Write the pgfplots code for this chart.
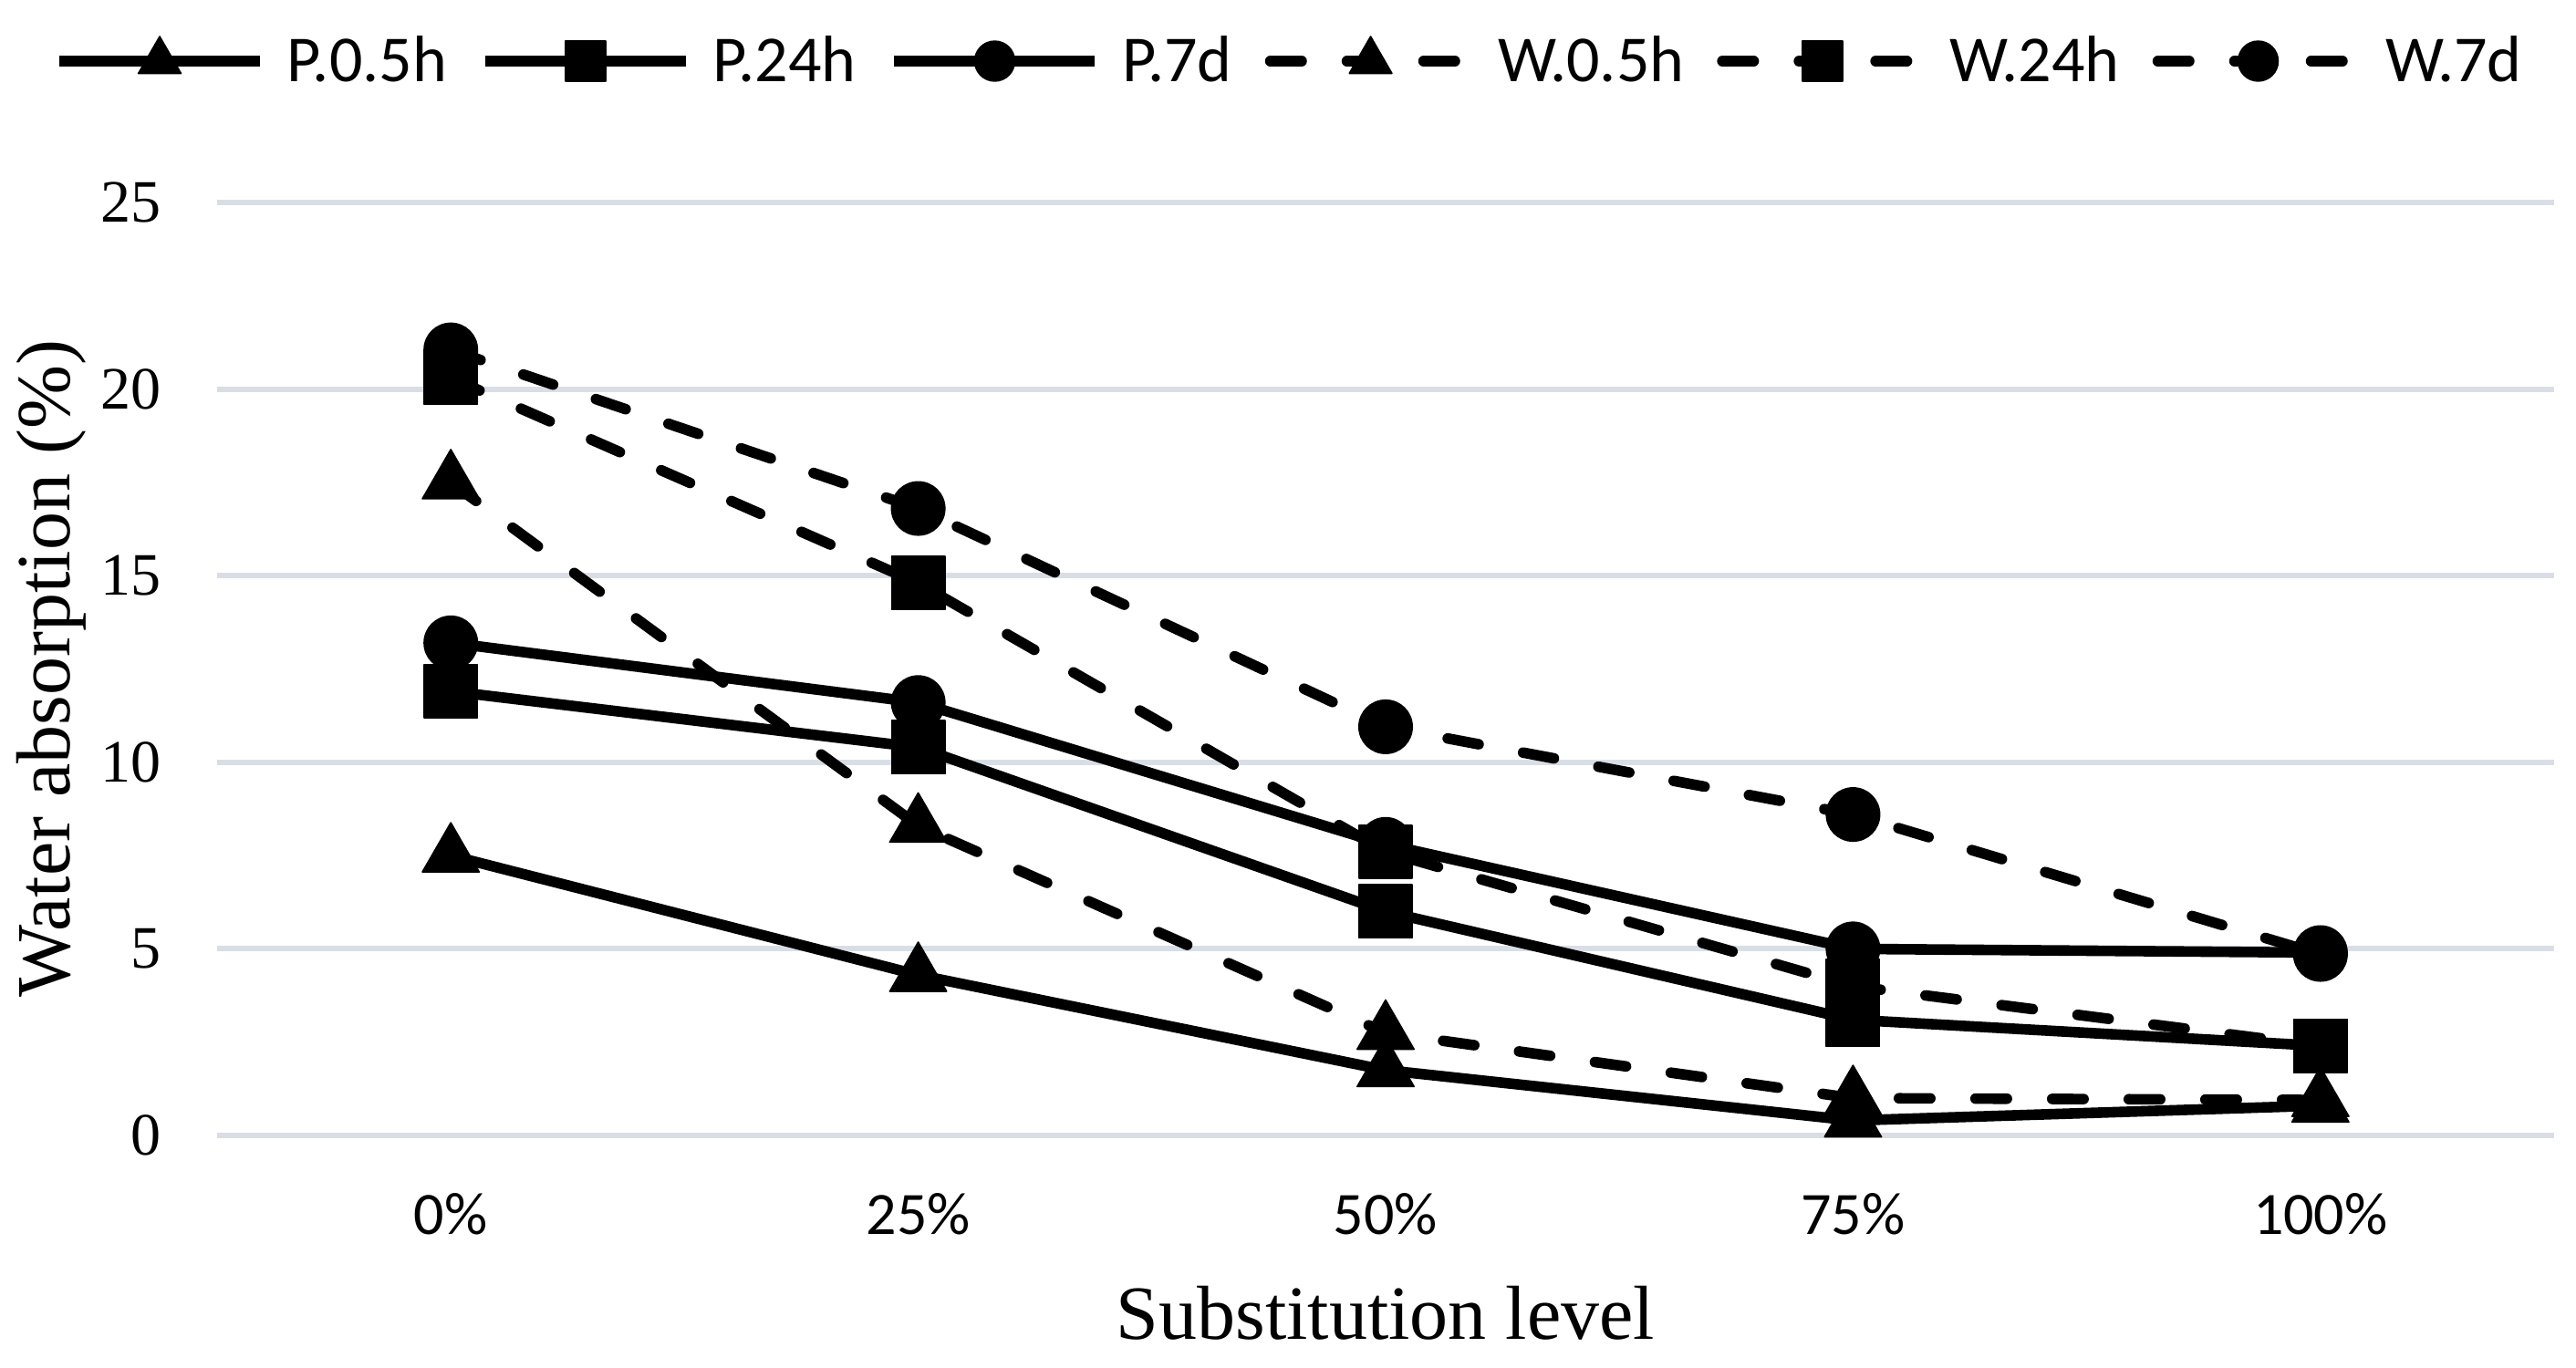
\documentclass[border=0pt]{standalone}
\usepackage{fontspec}
\setmainfont{Liberation Serif}
\newfontfamily\carlito{Carlito}
\usepackage{pgfplots}
\pgfplotsset{compat=1.18}
\definecolor{gridc}{RGB}{217,222,230}
\pgfplotsset{
  Pline/.style={black, line width=2.9pt, solid, line join=round, mark options={solid, line width=0.4pt}},
  Wline/.style={black, line width=2.9pt, dash pattern=on 8.6pt off 12.4pt, line cap=round, line join=round, mark options={solid, line width=0.4pt}},
}
\begin{document}
\begin{tikzpicture}
\begin{axis}[
  width=640.5pt, height=255.75pt, scale only axis,
  xmin=-0.5, xmax=4.5, ymin=0, ymax=25,
  xtick={0,1,2,3,4}, xticklabels={0\%,25\%,50\%,75\%,100\%},
  ytick={0,5,10,15,20,25},
  axis line style={draw=none},
  major tick length=0pt,
  ymajorgrids, major grid style={draw=gridc, line width=1.5pt},
  xticklabel style={font=\carlito\fontsize{16.5}{19}\selectfont, anchor=north, inner sep=0pt, yshift=-15.75pt},
  yticklabel style={font=\fontsize{16.5}{19}\selectfont, anchor=east, inner sep=0pt, xshift=-15.25pt},
  /pgf/number format/assume math mode=true,
  xlabel={Substitution level}, ylabel={Water absorption (\%)},
  every axis x label/.style={at={(axis description cs:0.5,-0.1906)}, anchor=center, font=\fontsize{21}{25}\selectfont},
  every axis y label/.style={at={(axis description cs:-0.07104,0.5)}, rotate=90, anchor=center, font=\fontsize{21}{25}\selectfont},
  legend columns=-1,
  legend style={draw=none, fill=none, at={(axis description cs:0.4512,1.1515)}, anchor=center,
    font=\carlito\fontsize{18}{21}\selectfont, column sep=0pt, nodes={inner sep=0pt}},
  legend image code/.code={
    \path (-9pt,0pt) (61pt,0pt);
    \draw[mark repeat=2, mark phase=2, #1, every mark/.append style={scale=0.75}] plot coordinates {(0pt,0pt) (27.5pt,0pt) (55pt,0pt)};
  },
]
\addplot[Pline, mark=triangle*, mark size=9pt] coordinates {(0,7.5) (1,4.3) (2,1.75) (3,0.4) (4,0.8)};
\addlegendentry{P.0.5h}
\addplot[Pline, mark=square*, mark size=7.3pt] coordinates {(0,11.9) (1,10.4) (2,6.0) (3,3.1) (4,2.4)};
\addlegendentry{P.24h}
\addplot[Pline, mark=*, mark size=7.3pt] coordinates {(0,13.2) (1,11.6) (2,7.8) (3,5.0) (4,4.9)};
\addlegendentry{P.7d}
\addplot[Wline, mark=triangle*, mark size=9pt] coordinates {(0,17.5) (1,8.3) (2,2.75) (3,1.0) (4,0.95)};
\addlegendentry{W.0.5h}
\addplot[Wline, mark=square*, mark size=7.3pt] coordinates {(0,20.3) (1,14.8) (2,7.6) (3,4.0) (4,2.4)};
\addlegendentry{W.24h}
\addplot[Wline, mark=*, mark size=7.3pt] coordinates {(0,21.05) (1,16.8) (2,10.95) (3,8.6) (4,4.85)};
\addlegendentry{W.7d}
\end{axis}
\pgfresetboundingbox
\path[use as bounding box] ([xshift=-59.5pt,yshift=-63.5pt]current axis.south west) rectangle ([xshift=6pt,yshift=55.5pt]current axis.north east);
\end{tikzpicture}
\end{document}
